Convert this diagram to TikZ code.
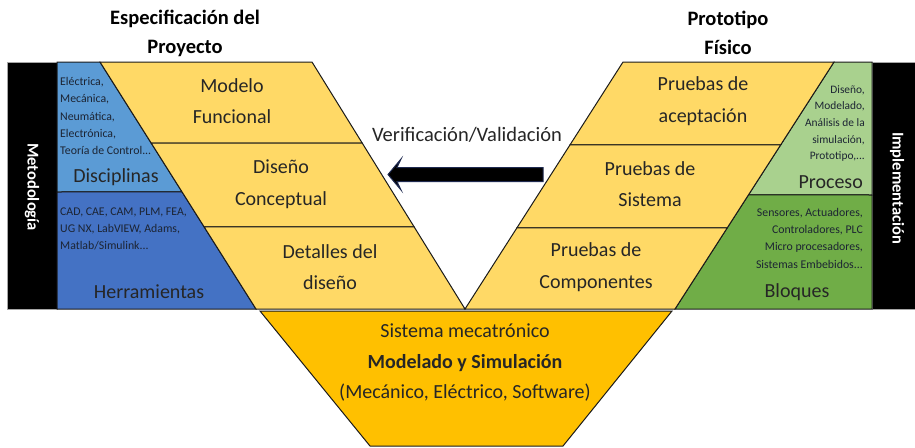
\documentclass[tikz,border=0pt]{standalone}
\usepackage{fontspec}
\setmainfont{Carlito}
\usetikzlibrary{calc}
\definecolor{bandY}{HTML}{FFD966}
\definecolor{baseY}{HTML}{FFC000}
\definecolor{blueL}{HTML}{5B9BD5}
\definecolor{blueD}{HTML}{4472C4}
\definecolor{greenL}{HTML}{A9D18E}
\definecolor{greenD}{HTML}{70AD47}
\definecolor{txt}{HTML}{262626}
\definecolor{smallc}{HTML}{1C2433}
\definecolor{edgec}{HTML}{1A1A1A}
\definecolor{navyc}{HTML}{1F2A50}
\begin{document}
\begin{tikzpicture}[x=1pt,y=-1pt,
  region/.style={draw=edgec, line width=1pt, line join=miter},
  bigtxt/.style={font=\fontsize{20}{31.5}\selectfont, text=txt, align=center, inner sep=0pt},
  smalltxt/.style={font=\fontsize{11.8}{17.3}\selectfont, text=smallc, inner sep=0pt},
  titletxt/.style={font=\fontsize{20.5}{29}\selectfont\bfseries, text=black, align=center, inner sep=0pt},
  sidetxt/.style={font=\fontsize{16.5}{18}\selectfont\bfseries, text=white, inner sep=0pt, rotate=-90}]
\useasboundingbox (0,0) rectangle (915,447);
\fill[white] (0,0) rectangle (915,447);
% key coordinates
\coordinate (L0) at (100,62);  \coordinate (L1) at (256,309);
\coordinate (Li0) at (312,62); \coordinate (V) at (465,309);
\coordinate (R0) at (623,62);  \coordinate (Ro0) at (834,62);
\coordinate (Ro1) at (675,309);
% black bars
\fill[black, draw=gray!70, line width=0.8pt] (7,62) rectangle (57,309);
\fill[black, draw=gray!70, line width=0.8pt] (872,62) rectangle (915,309);
% blue regions
\filldraw[region, fill=blueL] (57,62) -- (L0) -- ($(L0)!0.526!(L1)$) -- (57,192) -- cycle;
\filldraw[region, fill=blueD] (57,192) -- ($(L0)!0.526!(L1)$) -- (L1) -- (57,309) -- cycle;
% green regions
\filldraw[region, fill=greenL] (872,62) -- (Ro0) -- ($(Ro0)!0.538!(Ro1)$) -- (872,195) -- cycle;
\filldraw[region, fill=greenD] (872,195) -- ($(Ro0)!0.538!(Ro1)$) -- (Ro1) -- (872,309) -- cycle;
% left yellow band
\filldraw[region, fill=bandY] (L0) -- (Li0) -- ($(Li0)!0.328!(V)$) -- ($(L0)!0.328!(L1)$) -- cycle;
\filldraw[region, fill=bandY] ($(L0)!0.328!(L1)$) -- ($(Li0)!0.328!(V)$) -- ($(Li0)!0.668!(V)$) -- ($(L0)!0.668!(L1)$) -- cycle;
\filldraw[region, fill=bandY] ($(L0)!0.668!(L1)$) -- ($(Li0)!0.668!(V)$) -- (V) -- (L1) -- cycle;
% right yellow band
\filldraw[region, fill=bandY] (R0) -- (Ro0) -- ($(Ro0)!0.336!(Ro1)$) -- ($(R0)!0.336!(V)$) -- cycle;
\filldraw[region, fill=bandY] ($(R0)!0.336!(V)$) -- ($(Ro0)!0.336!(Ro1)$) -- ($(Ro0)!0.672!(Ro1)$) -- ($(R0)!0.672!(V)$) -- cycle;
\filldraw[region, fill=bandY] ($(R0)!0.672!(V)$) -- ($(Ro0)!0.672!(Ro1)$) -- (Ro1) -- (V) -- cycle;
% bottom trapezoid
\filldraw[region, fill=baseY] (260,311) -- (672,311) -- (563,446) -- (370,446) -- cycle;
% arrow
\coordinate (atail) at (543,167.5);
\coordinate (atip) at (388,174.5);
\filldraw[fill=black, draw=navyc, line width=1pt, line join=miter]
  (atail) -- (397,167.5) -- (401,159) -- (atip) -- (401,190) -- (397,181.5) -- (543,181.5) -- cycle;
% titles
\node[titletxt] (tL) at (185,33) {Especificación del\\Proyecto};
\node[titletxt] (tR) at (728,33) {Prototipo\\Físico};
\node[font=\fontsize{20.5}{24}\selectfont, text=txt, inner sep=0pt] (vv) at (467,135) {Verificación/Validación};
% side bars
\node[sidetxt] (met) at (32,187) {Metodología};
\node[sidetxt] (imp) at (897,188) {Implementación};
% band labels
\node[bigtxt] (mf) at (232,101) {Modelo\\Funcional};
\node[bigtxt] (dc) at (281,184) {Diseño\\Conceptual};
\node[bigtxt] (dd) at (330,267) {Detalles del\\diseño};
\node[bigtxt] (pa) at (703,101) {Pruebas de\\aceptación};
\node[bigtxt] (ps) at (650,184) {Pruebas de\\Sistema};
\node[bigtxt] (pc) at (596,267) {Pruebas de\\Componentes};
% blue texts
\node[smalltxt, align=left, anchor=west] (disc) at (60,116) {Eléctrica,\\Mecánica,\\Neumática,\\Electrónica,\\Teoría de Control...};
\node[bigtxt] (discL) at (116,177) {Disciplinas};
\node[smalltxt, align=left, anchor=west] (herr) at (60,229) {CAD, CAE, CAM, PLM, FEA,\\UG NX, LabVIEW, Adams,\\Matlab/Simulink...};
\node[bigtxt] (herrL) at (149,292) {Herramientas};
% green texts
\node[smalltxt, font=\fontsize{11.4}{16.7}\selectfont, align=right, anchor=east] (proc) at (865,123.5) {Diseño,\\Modelado,\\Análisis de la\\simulación,\\Prototipo,...};
\node[bigtxt, anchor=east] (procL) at (863,182) {Proceso};
\node[smalltxt, align=right, anchor=east] (bloq) at (863,238) {Sensores, Actuadores,\\Controladores, PLC\\Micro procesadores,\\Sistemas Embebidos...};
\node[bigtxt] (bloqL) at (797,292) {Bloques};
% bottom text
\node[bigtxt, font=\fontsize{20}{30.5}\selectfont] (base) at (465,363) {Sistema mecatrónico\\\textbf{Modelado y Simulación}\\(Mecánico, Eléctrico, Software)};
\end{tikzpicture}
\end{document}
